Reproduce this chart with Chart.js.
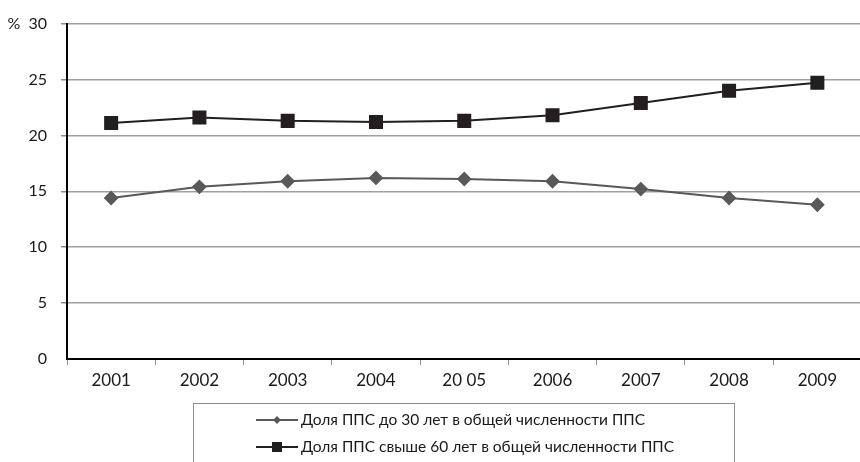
<!DOCTYPE html>
<html>
<head>
<meta charset="utf-8">
<script src="https://cdn.jsdelivr.net/npm/chart.js@4/dist/chart.umd.min.js"></script>
<style>
  html, body { margin: 0; padding: 0; background: #fff; overflow: hidden; width: 860px; height: 462px; }
  canvas { display: block; }
</style>
</head>
<body>
<canvas id="chart" width="872" height="462"></canvas>
<script>
// chart data
var years = ['2001', '2002', '2003', '2004', '20 05', '2006', '2007', '2008', '2009'];
var under30 = [14.4, 15.4, 15.9, 16.2, 16.1, 15.9, 15.2, 14.4, 13.8];
var over60 = [21.1, 21.6, 21.3, 21.2, 21.3, 21.8, 22.9, 24.0, 24.7];
var yTicks = [0, 5, 10, 15, 20, 25, 30];
var labelUnder30 = 'Доля ППС до 30 лет в общей численности ППС';
var labelOver60 = 'Доля ППС свыше 60 лет в общей численности ППС';

var FONT = 'Lato, "Open Sans", sans-serif';

// legend box under the plot, drawn on the canvas
var boxLegend = {
  id: 'boxLegend',
  afterDraw: function(chart) {
    var ctx = chart.ctx;
    ctx.save();
    ctx.strokeStyle = '#8c8c8c';
    ctx.lineWidth = 1;
    ctx.strokeRect(193.5, 403.5, 541, 80);

    var rows = [
      { y: 420, text: labelUnder30, ds: chart.data.datasets[0] },
      { y: 447, text: labelOver60, ds: chart.data.datasets[1] }
    ];
    rows.forEach(function(r) {
      ctx.strokeStyle = r.ds.borderColor;
      ctx.lineWidth = 2;
      ctx.beginPath();
      ctx.moveTo(256, r.y);
      ctx.lineTo(298, r.y);
      ctx.stroke();
      ctx.fillStyle = r.ds.pointBackgroundColor;
      if (r.ds.pointStyle === 'rectRot') {
        ctx.beginPath();
        ctx.moveTo(277, r.y - 4);
        ctx.lineTo(281, r.y);
        ctx.lineTo(277, r.y + 4);
        ctx.lineTo(273, r.y);
        ctx.closePath();
        ctx.fill();
      } else {
        ctx.fillRect(272, r.y - 5, 10, 10);
      }
      ctx.fillStyle = '#1a1a1a';
      ctx.font = '15.5px ' + FONT;
      ctx.textBaseline = 'middle';
      ctx.textAlign = 'left';
      ctx.fillText(r.text, 301, r.y);
    });
    ctx.restore();
  }
};

var ctx = document.getElementById('chart').getContext('2d');
var chart = new Chart(ctx, {
  type: 'line',
  data: {
    labels: years,
    datasets: [{
      label: labelUnder30,
      data: under30,
      borderColor: '#58595b',
      backgroundColor: '#58595b',
      pointBackgroundColor: '#58595b',
      pointBorderColor: '#58595b',
      pointStyle: 'rectRot',
      pointRadius: 6,
      borderWidth: 2,
      tension: 0
    }, {
      label: labelOver60,
      data: over60,
      borderColor: '#231f20',
      backgroundColor: '#231f20',
      pointBackgroundColor: '#231f20',
      pointBorderColor: '#231f20',
      pointStyle: 'rect',
      pointRadius: 8.5,
      borderWidth: 2,
      tension: 0
    }]
  },
  options: {
    responsive: false,
    animation: false,
    layout: { padding: { top: 19, right: 2, bottom: 0, left: 0 } },
    plugins: {
      legend: { display: false },
      tooltip: { enabled: false }
    },
    scales: {
      x: {
        offset: true,
        afterFit: function(scale) { scale.height = 103; },
        grid: {
          offset: true,
          drawOnChartArea: false,
          drawTicks: true,
          tickLength: 6,
          tickColor: '#8c8c8c'
        },
        border: { color: '#000', width: 2 },
        ticks: {
          color: '#1a1a1a',
          padding: 5,
          maxRotation: 0,
          font: { family: FONT, size: 17 }
        }
      },
      y: {
        min: 0,
        max: 30,
        afterFit: function(scale) { scale.width = 67; },
        afterBuildTicks: function(scale) {
          scale.ticks = yTicks.map(function(v) { return { value: v }; });
        },
        grid: {
          color: '#a0a0a0',
          lineWidth: function(c) { return c.tick && c.tick.value === 0 ? 0 : 1.5; },
          tickLength: 6,
          tickColor: '#8c8c8c'
        },
        border: { color: '#000', width: 2 },
        ticks: {
          color: '#1a1a1a',
          padding: 14,
          font: { family: FONT, size: 16 },
          callback: function(v) { return v === 30 ? '%  30' : v; }
        }
      }
    }
  },
  plugins: [boxLegend]
});
</script>
</body>
</html>
